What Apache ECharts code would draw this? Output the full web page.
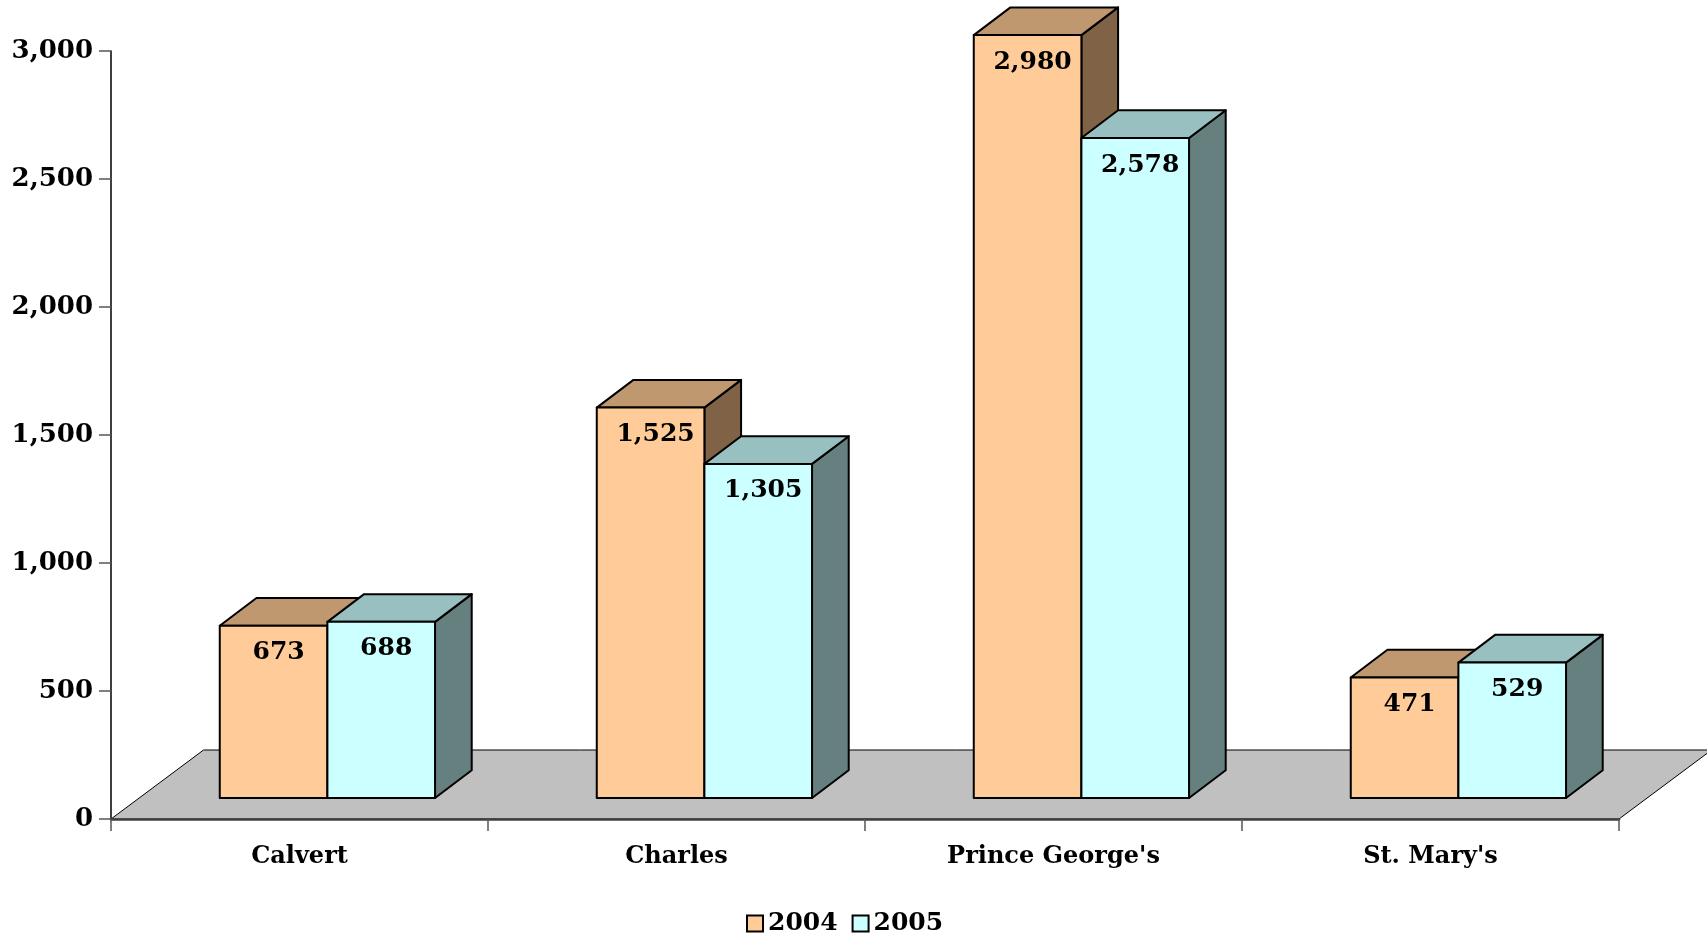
<!DOCTYPE html>
<html>
<head>
<meta charset="utf-8">
<script src="https://cdn.jsdelivr.net/npm/echarts@6/dist/echarts.min.js"></script>
<style>
  html, body { margin: 0; padding: 0; background: #fff; }
  #chart { width: 1707px; height: 935px; }
</style>
</head>
<body>
<div id="chart"></div>
<script>
  var counties = ['Calvert', 'Charles', "Prince George's", "St. Mary's"];
  var years = ['2004', '2005'];
  var values2004 = [673, 1525, 2980, 471];
  var values2005 = [688, 1305, 2578, 529];
  var yMax = 3000;
  var yStep = 500;

  var SERIF = '"DejaVu Serif", serif';
  var FONT = 'bold 25px ' + SERIF;

  // front face / top face / side face colours per year
  var faces = {
    '2004': ['#FFCC99', '#C09870', '#806246'],
    '2005': ['#CCFFFF', '#99C0C0', '#668080']
  };

  function toPairs(list) {
    return list.map(function (v, i) { return [i, v]; });
  }

  function fmt(v) {
    return Number(v).toLocaleString('en-US');
  }

  // fake 3D column, sizes taken relative to the category band
  function makeBar(side, colors) {
    return function (params, api) {
      var cat = api.value(0);
      var val = api.value(1);
      var base = api.coord([cat, 0]);
      var peak = api.coord([cat, val]);
      var band = api.size([1, 0])[0];
      var w = band * 0.2855;
      var ox = band * 0.074, oy = -band * 0.0557;   // front plane shift
      var dx = band * 0.0973, dy = -band * 0.0735;  // column depth
      var x0 = base[0] + ox + (side === 0 ? -w : 0);
      var x1 = x0 + w;
      var yb = base[1] + oy;
      var yt = peak[1] + oy;
      var line = { stroke: '#000', lineWidth: 2, lineJoin: 'round' };
      return {
        type: 'group',
        children: [
          {
            type: 'polygon',
            shape: { points: [[x1, yt], [x1 + dx, yt + dy], [x1 + dx, yb + dy], [x1, yb]] },
            style: Object.assign({ fill: colors[2] }, line)
          },
          {
            type: 'polygon',
            shape: { points: [[x0, yt], [x0 + dx, yt + dy], [x1 + dx, yt + dy], [x1, yt]] },
            style: Object.assign({ fill: colors[1] }, line)
          },
          {
            type: 'rect',
            shape: { x: x0, y: yt, width: w, height: yb - yt },
            style: Object.assign({ fill: colors[0] }, line)
          },
          {
            type: 'text',
            style: {
              text: fmt(val),
              x: (x0 + x1) / 2 + 5,
              y: yt + 27,
              align: 'center',
              verticalAlign: 'middle',
              font: FONT,
              fill: '#000'
            }
          }
        ]
      };
    };
  }

  function renderFloor(params, api) {
    var cs = params.coordSys;
    var y0 = api.coord([0, 0])[1];
    var band = api.size([1, 0])[0];
    var dx = band * 0.2455, dy = -band * 0.183;
    var xl = cs.x, xr = cs.x + cs.width;
    return {
      type: 'polygon',
      shape: { points: [[xl, y0], [xl + dx, y0 + dy], [xr + dx, y0 + dy], [xr, y0]] },
      style: { fill: '#C0C0C0', stroke: '#000', lineWidth: 1 }
    };
  }

  var chart = echarts.init(document.getElementById('chart'));
  chart.setOption({
    animation: false,
    backgroundColor: '#fff',
    grid: { left: 111, right: 88, top: 51, bottom: 116 },
    legend: {
      data: years,
      left: 741,
      top: 906,
      icon: 'rect',
      itemWidth: 16,
      itemHeight: 16,
      itemGap: 14,
      textStyle: { fontFamily: SERIF, fontWeight: 'bold', fontSize: 25, color: '#000' }
    },
    xAxis: {
      type: 'category',
      data: counties,
      z: 5,
      axisLine: { lineStyle: { color: '#404040', width: 2.5 } },
      axisTick: { show: true, length: 12, lineStyle: { color: '#555', width: 1.5 } },
      axisLabel: {
        margin: 26,
        color: '#000',
        fontFamily: SERIF,
        fontWeight: 'bold',
        fontSize: 24
      }
    },
    yAxis: {
      type: 'value',
      min: 0,
      max: yMax,
      interval: yStep,
      z: 5,
      splitLine: { show: false },
      axisLine: { show: true, lineStyle: { color: '#000', width: 1.5 } },
      axisTick: { show: true, length: 12, lineStyle: { color: '#555', width: 1.5 } },
      axisLabel: {
        margin: 18,
        color: '#000',
        fontFamily: SERIF,
        fontWeight: 'bold',
        fontSize: 26,
        formatter: fmt
      }
    },
    series: [
      {
        name: 'floor',
        type: 'custom',
        z: 1,
        silent: true,
        data: [[0, 0]],
        renderItem: renderFloor
      },
      {
        name: '2004',
        type: 'custom',
        z: 2,
        itemStyle: { color: faces['2004'][0], borderColor: '#000', borderWidth: 2 },
        data: toPairs(values2004),
        renderItem: makeBar(0, faces['2004'])
      },
      {
        name: '2005',
        type: 'custom',
        z: 3,
        itemStyle: { color: faces['2005'][0], borderColor: '#000', borderWidth: 2 },
        data: toPairs(values2005),
        renderItem: makeBar(1, faces['2005'])
      }
    ]
  });
</script>
</body>
</html>
